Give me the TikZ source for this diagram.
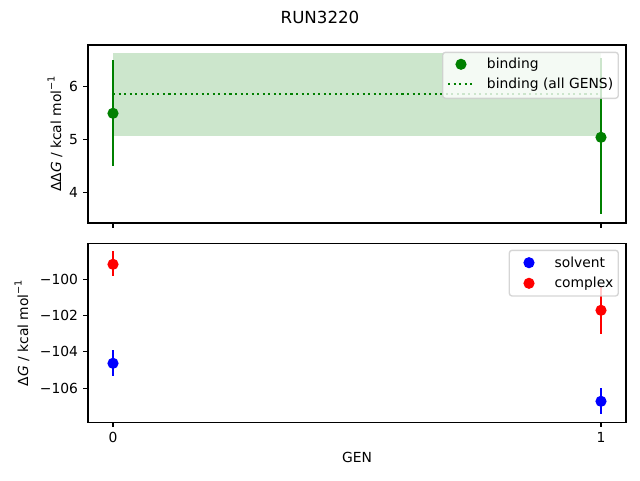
\documentclass[tikz,border=0pt]{standalone}
\usepackage{fontspec}
\setmainfont{DejaVu Sans}
\usepackage{tikz}

\definecolor{mplgreen}{RGB}{0,128,0}
\definecolor{mplblue}{RGB}{0,0,255}
\definecolor{mplred}{RGB}{255,0,0}
\definecolor{bandgreen}{RGB}{204,230,204}
\definecolor{framegray}{RGB}{204,204,204}

\newcommand{\molinv}{mol\raisebox{0.85ex}{\fontsize{7.3}{8}\selectfont −1}}

\tikzset{
  spine/.style={line width=0.83pt},
  tickmark/.style={line width=0.83pt},
  ebar/.style={line width=1.56pt},
  dot/.style={circle,inner sep=0pt,minimum size=8.4pt},
  ticklabel/.style={inner sep=0pt,font=\fontsize{10.4}{12.5}\selectfont},
  legendbox/.style={draw=framegray,fill=white,opacity=0.8,line width=1.04pt,rounded corners=2.1pt},
  meanline/.style={mplgreen,line width=1.56pt,dash pattern=on 1.56pt off 2.6pt}
}

\begin{document}
\begin{tikzpicture}[x=0.75pt,y=0.75pt,yscale=-1,xscale=1]
\useasboundingbox (0,0) rectangle (640,480);

% Title
\draw (320,17) node [inner sep=0pt,font=\fontsize{12.5}{15}\selectfont] (title) {RUN3220};

%Upper panel: band and mean of all GENS
\fill [bandgreen] (113,53.3) rectangle (601,135.7);
\draw [meanline] (113,93.7) -- (601,93.7);

%Error bars [binding]
\draw [ebar,mplgreen] (113,60.3) -- (113,165.7);
\draw [ebar,mplgreen] (601,58.3) -- (601,214);
\node [dot,fill=mplgreen] (bind0) at (113,113.3) {};
\node [dot,fill=mplgreen] (bind1) at (601,137.3) {};

%Upper axes
\draw [spine] (88,45) rectangle (626,223);
\foreach \y/\lab in {86.3/6,139.3/5,192.3/4}{
  \draw [tickmark] (88,\y) -- (83.1,\y);
  \draw (78.3,\y) node [ticklabel,anchor=east] {\lab};
}
\draw [tickmark] (113,223) -- (113,227.9);
\draw [tickmark] (601,223) -- (601,227.9);

% Text Node
\draw (55,134) node [ticklabel,rotate=90] (ylabtop) {ΔΔ\textit{G} / kcal \molinv};

%Upper legend
\draw [legendbox] (442.7,52.3) rectangle (618.3,98.3);
\node [dot,fill=mplgreen] (legbind) at (461,64.3) {};
\draw [meanline] (448,84.3) -- (474,84.3);
\draw (486.7,64.3) node [ticklabel,anchor=west] (legbindtxt) {binding};
\draw (486.7,84.3) node [ticklabel,anchor=west] (legalltxt) {binding (all GENS)};

%Error bars [complex, solvent]
\draw [ebar,mplred] (113,251) -- (113,275.7);
\draw [ebar,mplblue] (113,350) -- (113,375.7);
\draw [ebar,mplred] (601,286.6) -- (601,334);
\draw [ebar,mplblue] (601,388) -- (601,413.7);
\node [dot,fill=mplred] (cplx0) at (113,264.3) {};
\node [dot,fill=mplblue] (solv0) at (113,363.3) {};
\node [dot,fill=mplred] (cplx1) at (601,310.3) {};
\node [dot,fill=mplblue] (solv1) at (601,401.3) {};

%Lower axes
\draw [spine] (88,243.3) rectangle (626,422.3);
\foreach \y/\lab in {279.1/−100,315.5/−102,351.9/−104,388.3/−106}{
  \draw [tickmark] (88,\y) -- (83.1,\y);
  \draw (78.3,\y) node [ticklabel,anchor=east] {\lab};
}
\foreach \x/\lab in {113/0,601/1}{
  \draw [tickmark] (\x,422.3) -- (\x,427.2);
  \draw (\x,432) node [ticklabel,anchor=north] {\lab};
}

% Text Node
\draw (22,333) node [ticklabel,rotate=90] (ylabbot) {Δ\textit{G} / kcal \molinv};
% Text Node
\draw (357,457) node [ticklabel] (xlab) {GEN};

%Lower legend
\draw [legendbox] (509.3,250.3) rectangle (618.3,296);
\node [dot,fill=mplblue] (legsolv) at (529,262.7) {};
\node [dot,fill=mplred] (legcplx) at (529,283.3) {};
\draw (554.3,262.7) node [ticklabel,anchor=west] (legsolvtxt) {solvent};
\draw (554.3,283.3) node [ticklabel,anchor=west] (legcplxtxt) {complex};

\end{tikzpicture}
\end{document}
